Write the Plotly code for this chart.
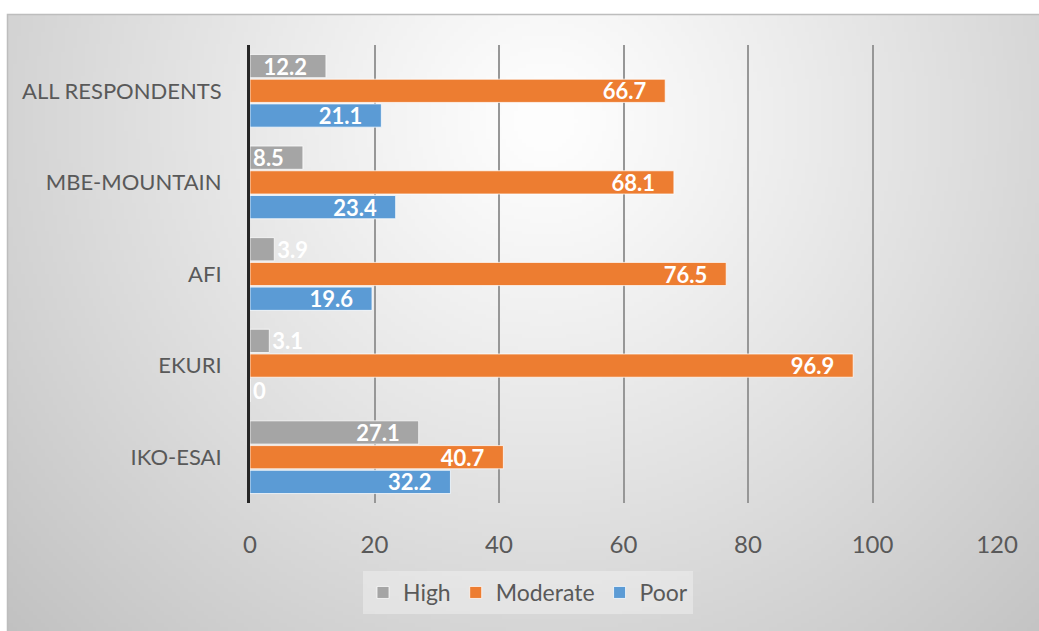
import base64
import struct
import zlib

import numpy as np
import plotly.graph_objects as go

# ---------------- data ----------------
categories = ["IKO-ESAI", "EKURI", "AFI", "MBE-MOUNTAIN", "ALL RESPONDENTS"]
high = [27.1, 3.1, 3.9, 8.5, 12.2]
moderate = [40.7, 96.9, 76.5, 68.1, 66.7]
poor = [32.2, 0, 19.6, 23.4, 21.1]
x_ticks = [0, 20, 40, 60, 80, 100, 120]

series = [("Poor", poor, "#5B9BD5"),
          ("Moderate", moderate, "#ED7D31"),
          ("High", high, "#A5A5A5")]

# ---------------- layout constants (pixels) ----------------
W, H = 1039, 631
ML, MR, MT, MB = 250, 42, 45, 128
PW, PH = W - ML - MR, H - MT - MB
FONT = "Lato"


def px_x(px):
    return (px - ML) / PW


def px_y(py):
    return (H - MB - py) / PH


# ---------------- radial gradient background (PNG) ----------------
def gradient_png(w, h, x0, y0, x1, y1):
    xs = np.linspace(x0, x1, w)
    ys = np.linspace(y0, y1, h)
    X, Y = np.meshgrid(xs, ys)
    d = np.sqrt(((X - 545) / 560.0) ** 2 + ((Y - 120) / 560.0) ** 2)
    g = 255 - 45 * d ** 1.1
    g = np.clip(g, 185, 253).astype(np.uint8)
    raw = b"".join(b"\x00" + row.tobytes() for row in g)

    def chunk(tag, data):
        c = struct.pack(">I", len(data)) + tag + data
        return c + struct.pack(">I", zlib.crc32(tag + data) & 0xFFFFFFFF)

    png = (b"\x89PNG\r\n\x1a\n"
           + chunk(b"IHDR", struct.pack(">IIBBBBB", w, h, 8, 0, 0, 0, 0))
           + chunk(b"IDAT", zlib.compress(raw, 9))
           + chunk(b"IEND", b""))
    return "data:image/png;base64," + base64.b64encode(png).decode()


BX0, BY0, BX1, BY1 = 7, 14, W + 2, H + 2
bg_src = gradient_png(260, 156, BX0, BY0, BX1, BY1)

# ---------------- figure ----------------
fig = go.Figure()
for name, vals, color in series:
    text = [f"{v:g}\u00a0\u00a0\u00a0" if v >= 8 else f"{v:g}" for v in vals]
    pos = ["inside" if v >= 8 else "outside" for v in vals]
    lbl = dict(family=FONT, size=22, color="white", weight="bold")
    fig.add_trace(go.Bar(
        y=categories, x=vals, name=name, orientation="h",
        marker=dict(color=color, line=dict(color="rgba(255,255,255,0.75)", width=1)),
        text=text, textposition=pos, insidetextanchor="end",
        constraintext="none", cliponaxis=False,
        textfont=lbl, insidetextfont=lbl, outsidetextfont=lbl,
        hoverinfo="skip",
    ))

fig.update_layout(
    width=W, height=H,
    margin=dict(l=ML, r=MR, t=MT, b=MB, pad=0),
    paper_bgcolor="white",
    plot_bgcolor="rgba(0,0,0,0)",
    barmode="group", bargap=0.19, bargroupgap=0.06,
    font=dict(family=FONT, size=22, color="#595959"),
    showlegend=True,
    legend=dict(orientation="h", traceorder="reversed",
                x=px_x(528), xanchor="center", y=px_y(571), yanchor="top",
                bgcolor="rgba(245,245,245,0.45)",
                font=dict(family=FONT, size=23, color="#595959"),
                itemwidth=30, tracegroupgap=0),
    xaxis=dict(range=[0, 120], tickvals=x_ticks, showgrid=True,
               gridcolor="#979797", gridwidth=1.6, zeroline=False,
               showline=False, ticks="outside", ticklen=20,
               tickcolor="rgba(0,0,0,0)",
               tickfont=dict(family=FONT, size=24, color="#595959"),
               fixedrange=True),
    yaxis=dict(type="category", categoryorder="array", categoryarray=categories,
               showgrid=False, zeroline=False,
               showline=True, linecolor="#262626", linewidth=3,
               ticks="outside", ticklen=21, tickcolor="rgba(0,0,0,0)",
               tickfont=dict(family=FONT, size=22, color="#595959"),
               fixedrange=True),
    images=[dict(source=bg_src, xref="paper", yref="paper",
                 x=px_x(BX0), y=px_y(BY0),
                 sizex=(BX1 - BX0) / PW, sizey=(BY1 - BY0) / PH,
                 xanchor="left", yanchor="top", sizing="stretch",
                 layer="below")],
    shapes=[dict(type="rect", xref="paper", yref="paper",
                 x0=px_x(BX0 + 0.5), y0=px_y(BY1), x1=px_x(BX1), y1=px_y(BY0 + 0.5),
                 line=dict(color="#bdbdbd", width=1.5), layer="below")],
)

fig.write_html("out.html", config={"displayModeBar": False})
